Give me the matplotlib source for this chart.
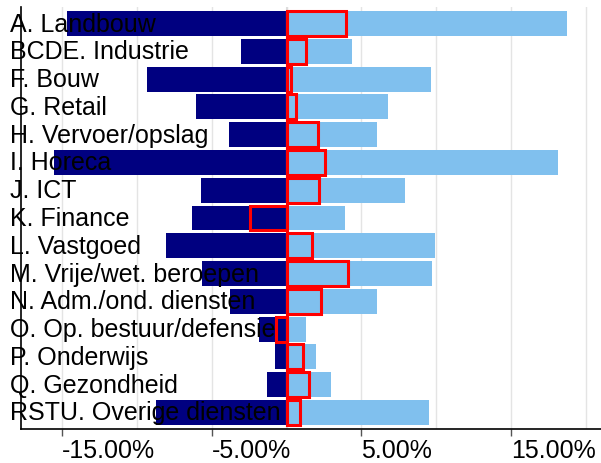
import matplotlib.pyplot as plt
from matplotlib.ticker import FixedLocator, FuncFormatter

# sectors, top to bottom
sectors = ["A. Landbouw", "BCDE. Industrie", "F. Bouw", "G. Retail",
           "H. Vervoer/opslag", "I. Horeca", "J. ICT", "K. Finance",
           "L. Vastgoed", "M. Vrije/wet. beroepen", "N. Adm./ond. diensten",
           "O. Op. bestuur/defensie", "P. Onderwijs", "Q. Gezondheid",
           "RSTU. Overige diensten"]

# percentages
negative = [-14.67, -3.07, -9.33, -6.07, -3.87, -15.53, -5.73, -6.33,
            -8.07, -5.67, -3.80, -1.87, -0.80, -1.33, -8.73]
positive = [18.73, 4.40, 9.67, 6.80, 6.07, 18.13, 7.93, 3.93,
            9.93, 9.73, 6.07, 1.33, 2.00, 3.00, 9.53]
net = [4.00, 1.33, 0.27, 0.60, 2.07, 2.60, 2.20, -2.47,
       1.73, 4.13, 2.27, -0.67, 1.13, 1.53, 0.87]

major_ticks = [-15, -5, 5, 15]
minor_ticks = [-10, 0, 10, 20]

plt.rcParams['font.family'] = ['Liberation Sans', 'DejaVu Sans']

fig = plt.figure(figsize=(6.01, 4.64), dpi=100)
ax = fig.add_axes([21 / 601, 34 / 464, 1 - 21 / 601, (430 - 8) / 464])

y = list(range(len(sectors)))
ax.barh(y, negative, height=0.9, color="#000080", zorder=2)
ax.barh(y, positive, height=0.9, color="#80c0ee", zorder=2)
ax.barh(y, net, height=0.9, facecolor="none", edgecolor="#ff0000",
        linewidth=2.2, zorder=3)
ax.axvline(0, color="#dddddd", linewidth=1.5, zorder=2.5)

for i, name in enumerate(sectors):
    ax.text(-0.019, i, name, transform=ax.get_yaxis_transform(),
            ha="left", va="center", fontsize=18, color="black", zorder=5)

ax.set_xlim(-17.73, 21.0)
ax.set_ylim(len(sectors) - 0.4, -0.6)

ax.xaxis.set_major_locator(FixedLocator(major_ticks))
ax.xaxis.set_minor_locator(FixedLocator(minor_ticks))
ax.xaxis.set_major_formatter(FuncFormatter(lambda v, p: f"{v:.2f}%"))
ax.tick_params(axis="x", which="major", length=5, width=1, color="#555555",
               labelsize=18, pad=1.5)
ax.tick_params(axis="x", which="minor", length=0)
for lab in ax.get_xticklabels():
    lab.set_horizontalalignment("left")
ax.set_yticks([])

ax.set_axisbelow(True)
ax.grid(True, axis="x", which="both", color="#e4e4e4", linewidth=1)

ax.spines["top"].set_visible(False)
ax.spines["right"].set_visible(False)
ax.spines["left"].set_linewidth(1.2)
ax.spines["bottom"].set_linewidth(1.2)

fig.savefig("out.png", dpi=100)
